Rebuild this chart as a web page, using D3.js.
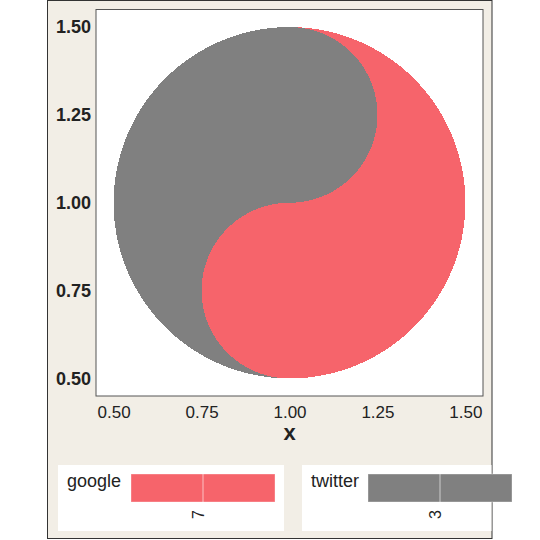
<!DOCTYPE html>
<html>
<head>
<meta charset="utf-8">
<script src="https://cdn.jsdelivr.net/npm/d3@7"></script>
<style>
  body { margin: 0; background: #fff; }
  svg { display: block; font-family: "Liberation Sans", Arial, sans-serif; }
</style>
</head>
<body>
<svg id="chart" width="540" height="540"></svg>
<script>
// groups shown in the legend and how many each one counts
const groups = ['google', 'twitter'];
const counts = [7, 3];
const colors = ['#f6646b', '#808080'];

// tick labels on both axes
const ticks = [0.5, 0.75, 1.0, 1.25, 1.5];

// outline of each shape as a run of circle arcs: centre x, centre y, radius, start and end angle (degrees)
const googleArcs = [
    [1, 1, 0.5, 90, -90],
    [1, 0.75, 0.25, -90, -270],
    [1, 1.25, 0.25, -90, 90]
];
const twitterArcs = [
    [1, 1, 0.5, 90, 270],
    [1, 0.75, 0.25, 270, 90],
    [1, 1.25, 0.25, -90, 90]
];
const shapes = [googleArcs, twitterArcs];

const svg = d3.select('#chart');

// beige panel behind everything
svg.append('rect')
    .attr('x', 47.5).attr('y', 0.5)
    .attr('width', 444.5).attr('height', 538)
    .attr('fill', '#f2eee6')
    .attr('stroke', '#333');

// plot area
const plot = { left: 96, right: 483, top: 9.5, bottom: 396 };

const x = d3.scaleLinear().domain([0.45, 1.55]).range([plot.left, plot.right]);
const y = d3.scaleLinear().domain([0.45, 1.55]).range([plot.bottom, plot.top]);

svg.append('rect')
    .attr('x', plot.left).attr('y', plot.top)
    .attr('width', plot.right - plot.left).attr('height', plot.bottom - plot.top)
    .attr('fill', '#fff')
    .attr('stroke', '#555');

// turn an arc list into polygon points, in pixels through the scales
function outline(arcs) {
    const pts = [];
    arcs.forEach(([cx, cy, r, a0, a1]) => {
        const steps = 90;
        for (let i = 0; i <= steps; i++) {
            const a = (a0 + (a1 - a0) * i / steps) * Math.PI / 180;
            pts.push([x(cx + r * Math.cos(a)), y(cy + r * Math.sin(a))]);
        }
    });
    return pts;
}

svg.append('g')
    .selectAll('path')
    .data(shapes)
    .join('path')
    .attr('d', d => d3.line()(outline(d)) + 'Z')
    .attr('fill', (d, i) => colors[i])
    .attr('shape-rendering', 'crispEdges');

// x axis labels, no tick marks
const xAxis = svg.append('g')
    .attr('transform', `translate(0,${plot.bottom})`)
    .call(d3.axisBottom(x).tickValues(ticks).tickFormat(d3.format('.2f')).tickSize(0).tickPadding(10));
xAxis.select('.domain').remove();
xAxis.selectAll('text')
    .attr('font-size', 17)
    .attr('fill', '#222')
    .attr('font-family', '"Liberation Sans", Arial, sans-serif');

// y axis labels, bold
const yAxis = svg.append('g')
    .attr('transform', `translate(${plot.left},0)`)
    .call(d3.axisLeft(y).tickValues(ticks).tickFormat(d3.format('.2f')).tickSize(0).tickPadding(5));
yAxis.select('.domain').remove();
yAxis.selectAll('text')
    .attr('font-size', 18)
    .attr('font-weight', 'bold')
    .attr('fill', '#222')
    .attr('font-family', '"Liberation Sans", Arial, sans-serif');

svg.append('text')
    .attr('x', x(1)).attr('y', 440)
    .attr('text-anchor', 'middle')
    .attr('font-size', 22)
    .attr('font-weight', 'bold')
    .attr('fill', '#222')
    .text('x');

// legends: one white box per group, with a colour bar and the count under it
const legendBoxes = [
    { box: [58, 284], bar: [131, 275], label: 67 },
    { box: [302, 491.5], bar: [368, 512], label: 311 }
];

const legend = svg.append('g')
    .selectAll('g')
    .data(groups)
    .join('g');

legend.append('rect')
    .attr('x', (d, i) => legendBoxes[i].box[0])
    .attr('y', 465)
    .attr('width', (d, i) => legendBoxes[i].box[1] - legendBoxes[i].box[0])
    .attr('height', 66)
    .attr('fill', '#fff');

legend.append('text')
    .attr('x', (d, i) => legendBoxes[i].label)
    .attr('y', 487)
    .attr('font-size', 18)
    .attr('fill', '#222')
    .text(d => d);

legend.append('rect')
    .attr('x', (d, i) => legendBoxes[i].bar[0])
    .attr('y', 474)
    .attr('width', (d, i) => legendBoxes[i].bar[1] - legendBoxes[i].bar[0])
    .attr('height', 28)
    .attr('fill', (d, i) => colors[i])
    .attr('stroke', '#fff')
    .attr('stroke-opacity', 0.35);

// thin light tick in the middle of each bar
legend.append('line')
    .attr('x1', (d, i) => (legendBoxes[i].bar[0] + legendBoxes[i].bar[1]) / 2)
    .attr('x2', (d, i) => (legendBoxes[i].bar[0] + legendBoxes[i].bar[1]) / 2)
    .attr('y1', 474).attr('y2', 502)
    .attr('stroke', '#fff')
    .attr('stroke-opacity', 0.6);

legend.append('text')
    .attr('transform', (d, i) => `translate(${(legendBoxes[i].bar[0] + legendBoxes[i].bar[1]) / 2 + 1},519) rotate(-90)`)
    .attr('font-size', 16)
    .attr('fill', '#222')
    .text((d, i) => counts[i]);
</script>
</body>
</html>
